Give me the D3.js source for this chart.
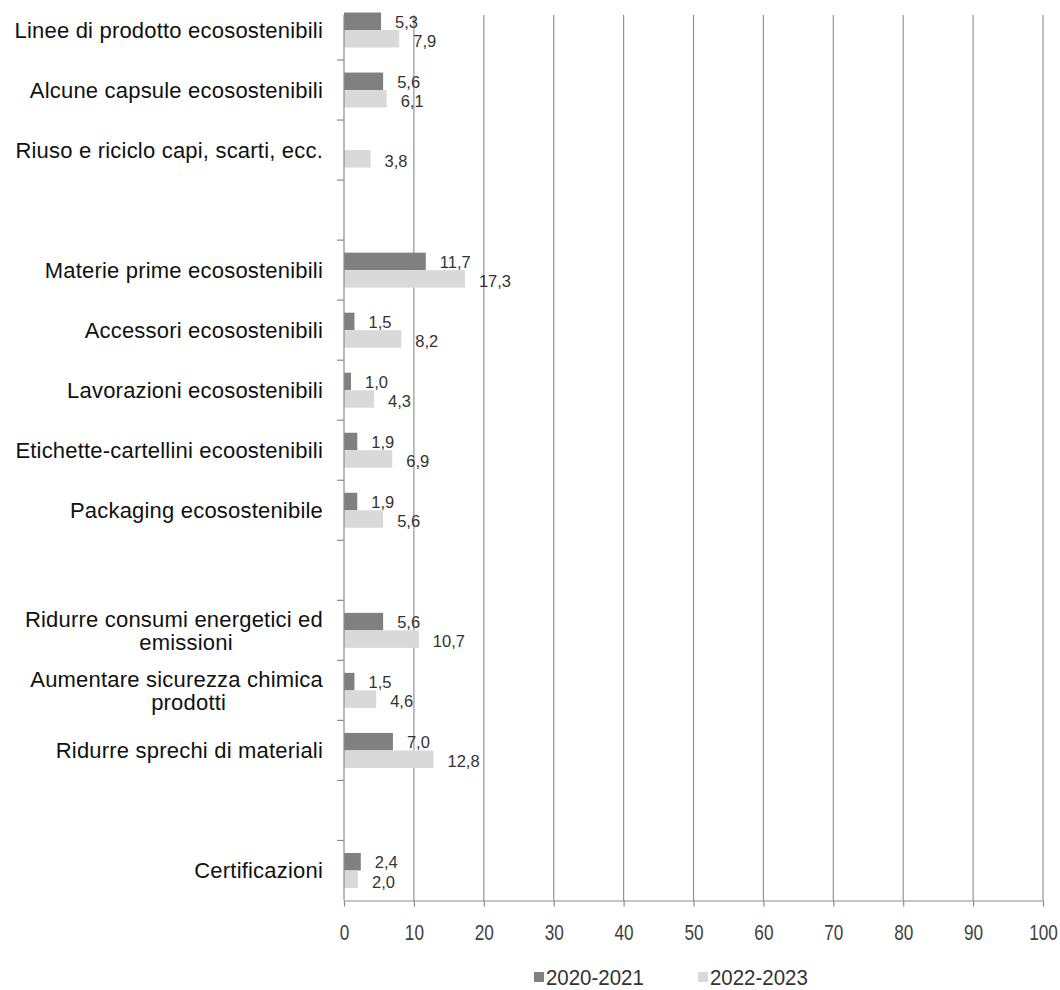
<!DOCTYPE html>
<html>
<head>
<meta charset="utf-8">
<script src="https://cdn.jsdelivr.net/npm/d3@7"></script>
<style>
  html, body { margin: 0; padding: 0; background: #fff; }
  svg { display: block; }
</style>
</head>
<body>
<svg id="chart" width="1060" height="990"></svg>
<script>
// ---- data ----
const categories = [
  ["Linee di prodotto ecosostenibili"],
  ["Alcune capsule ecosostenibili"],
  ["Riuso e riciclo capi, scarti, ecc."],
  [],
  ["Materie prime ecosostenibili"],
  ["Accessori ecosostenibili"],
  ["Lavorazioni ecosostenibili"],
  ["Etichette-cartellini ecoostenibili"],
  ["Packaging ecosostenibile"],
  [],
  ["Ridurre consumi energetici ed", "emissioni"],
  ["Aumentare sicurezza chimica", "prodotti"],
  ["Ridurre sprechi di materiali"],
  [],
  ["Certificazioni"]
];
const seriesNames = ["2020-2021", "2022-2023"];
const values2020 = [5.3, 5.6, null, null, 11.7, 1.5, 1.0, 1.9, 1.9, null, 5.6, 1.5, 7.0, null, 2.4];
const values2022 = [7.9, 6.1, 3.8, null, 17.3, 8.2, 4.3, 6.9, 5.6, null, 10.7, 4.6, 12.8, null, 2.0];
const xTicks = [0, 10, 20, 30, 40, 50, 60, 70, 80, 90, 100];
const seriesColors = ["#808080", "#d9d9d9"];

// ---- layout ----
const svg = d3.select("#chart");
const plotLeft = 344, plotRight = 1043, plotTop = 0, plotBottom = 900.5;

const x = d3.scaleLinear().domain([0, 100]).range([plotLeft, plotRight]);
const y = d3.scaleBand()
  .domain(d3.range(categories.length))
  .range([plotTop, plotBottom])
  .paddingInner(0.4167)
  .paddingOuter(0.2083);
const ySub = d3.scaleBand().domain(seriesNames).range([0, y.bandwidth()]);

// gridlines
svg.append("g")
  .selectAll("line")
  .data(xTicks.filter(t => t > 0))
  .join("line")
  .attr("x1", d => x(d)).attr("x2", d => x(d))
  .attr("y1", 15).attr("y2", plotBottom)
  .attr("stroke", "#949494").attr("stroke-width", 1.2);

// bars
const rows = categories.map((c, i) => ({ i, vals: [values2020[i], values2022[i]] }));
const groups = svg.append("g").selectAll("g")
  .data(rows)
  .join("g")
  .attr("transform", d => `translate(0,${y(d.i)})`);

groups.selectAll("rect")
  .data(d => d.vals.map((v, k) => ({ v, k })).filter(e => e.v != null))
  .join("rect")
  .attr("x", x(0))
  .attr("y", e => ySub(seriesNames[e.k]))
  .attr("width", e => x(e.v) - x(0))
  .attr("height", ySub.bandwidth())
  .attr("fill", e => seriesColors[e.k]);

groups.selectAll("text")
  .data(d => d.vals.map((v, k) => ({ v, k })).filter(e => e.v != null))
  .join("text")
  .attr("x", e => x(e.v) + 14)
  .attr("y", e => ySub(seriesNames[e.k]) + ySub.bandwidth() / 2 + (e.k === 0 ? 0.5 : 2.5))
  .attr("dy", "0.35em")
  .attr("font-family", "Liberation Sans, Arial, sans-serif")
  .attr("font-size", 16.5)
  .attr("fill", "#333")
  .text(e => d3.format(".1f")(e.v).replace(".", ","));

// y axis line + ticks
svg.append("line")
  .attr("x1", plotLeft).attr("x2", plotLeft).attr("y1", 15).attr("y2", plotBottom)
  .attr("stroke", "#8c8c8c").attr("stroke-width", 1.2);
svg.append("g").selectAll("line")
  .data(d3.range(1, categories.length))
  .join("line")
  .attr("x1", plotLeft - 7).attr("x2", plotLeft)
  .attr("y1", d => y(d) - y.step() * y.paddingInner() / 2)
  .attr("y2", d => y(d) - y.step() * y.paddingInner() / 2)
  .attr("stroke", "#8c8c8c").attr("stroke-width", 1.2);

// category labels
const labelG = svg.append("g");
rows.forEach(r => {
  const lines = categories[r.i];
  if (!lines.length) return;
  const cy = y(r.i) + y.bandwidth() / 2;
  const lh = 23;
  const t = labelG.append("text")
    .attr("font-family", "Liberation Sans, Arial, sans-serif")
    .attr("font-size", 22)
    .attr("letter-spacing", 0.2)
    .attr("fill", "#111");
  const spans = lines.map((ln, j) => t.append("tspan")
      .attr("text-anchor", "end")
      .attr("x", 323)
      .attr("y", cy + (j - (lines.length - 1) / 2) * lh)
      .attr("dy", "0.35em")
      .text(ln));
  if (lines.length > 1) {
    const w0 = spans[0].node().getComputedTextLength();
    spans.slice(1).forEach(s => s.attr("text-anchor", "middle").attr("x", 323 - w0 / 2 + 12));
  }
});

// x axis
const xAxis = d3.axisBottom(x).tickValues(xTicks).tickSize(6).tickSizeOuter(0);
const xg = svg.append("g").attr("transform", `translate(0,${plotBottom})`).call(xAxis);
xg.select(".domain").attr("stroke", "#8c8c8c").attr("stroke-width", 1.2);
xg.selectAll(".tick line").attr("stroke", "#8c8c8c").attr("stroke-width", 1.2);
xg.selectAll(".tick text")
  .attr("y", 24)
  .attr("font-family", "Liberation Sans, Arial, sans-serif")
  .attr("font-size", 22)
  .attr("transform", "scale(0.78,1)")
  .attr("fill", "#404040");

// legend
const legend = svg.append("g");
const legendX = [534, 698];
const legendScale = 0.93;
seriesNames.forEach((s, k) => {
  legend.append("rect")
    .attr("x", legendX[k]).attr("y", 972)
    .attr("width", 10).attr("height", 10)
    .attr("fill", seriesColors[k]);
  legend.append("text")
    .attr("x", (legendX[k] + 12) / legendScale).attr("y", 977)
    .attr("dy", "0.35em")
    .attr("transform", `scale(${legendScale},1)`)
    .attr("font-family", "Liberation Sans, Arial, sans-serif")
    .attr("font-size", 22)
    .attr("fill", "#333")
    .text(s);
});
</script>
</body>
</html>
